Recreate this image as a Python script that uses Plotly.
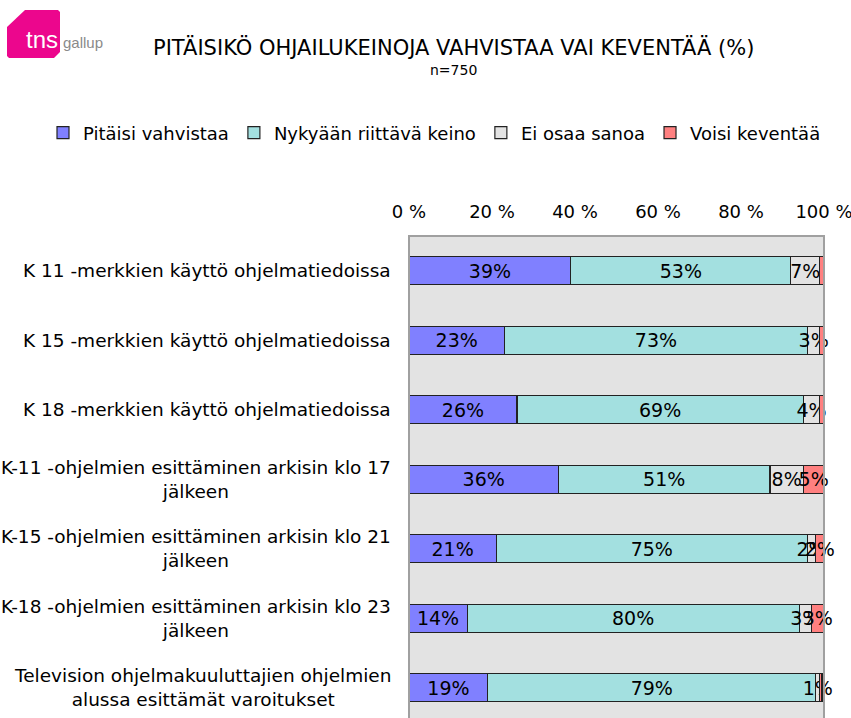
import plotly.graph_objects as go

categories = [
    "K 11 -merkkien käyttö ohjelmatiedoissa",
    "K 15 -merkkien käyttö ohjelmatiedoissa",
    "K 18 -merkkien käyttö ohjelmatiedoissa",
    "K-11 -ohjelmien esittäminen arkisin klo 17<br>jälkeen",
    "K-15 -ohjelmien esittäminen arkisin klo 21<br>jälkeen",
    "K-18 -ohjelmien esittäminen arkisin klo 23<br>jälkeen",
    "Television ohjelmakuuluttajien ohjelmien<br>alussa esittämät varoitukset",
]
series_names = ["Pitäisi vahvistaa", "Nykyään riittävä keino", "Ei osaa sanoa", "Voisi keventää"]
vahvistaa = [39, 23, 26, 36, 21, 14, 19]
riittava = [53, 73, 69, 51, 75, 80, 79]
ei_osaa = [7, 3, 4, 8, 2, 3, 1]
keventaa = [1, 1, 1, 5, 2, 3, 0.5]
keventaa_label_shown = [False, False, False, True, True, True, False]
tick_vals = [0, 20, 40, 60, 80, 100]
tick_text = ["0 %", "20 %", "40 %", "60 %", "80 %", "100 %"]

colors = ["#8080ff", "#a3e0e0", "#e3e3e3", "#ff8080"]
FONT = "DejaVu Sans, Liberation Sans, Arial, sans-serif"

W, H = 851, 718
ML, MR, MT, MB = 409, 27, 236, 0
PW, PH = W - ML - MR, H - MT - MB


def px(x):
    return (x - ML) / PW


def py(y):
    return (H - MB - y) / PH


fig = go.Figure()
all_vals = [vahvistaa, riittava, ei_osaa, keventaa]
for i, (name, vals) in enumerate(zip(series_names, all_vals)):
    if i == 3:
        txt = [f"{v:g}%" if s else "" for v, s in zip(vals, keventaa_label_shown)]
    else:
        txt = [f"{v:g}%" for v in vals]
    fig.add_trace(go.Bar(
        name=name, y=categories, x=vals, orientation="h",
        marker=dict(color=colors[i], line=dict(color="#222222", width=1.2)),
        text=txt, textposition="inside", insidetextanchor="middle",
        constraintext="none", cliponaxis=False, textangle=0,
        insidetextfont=dict(color="black", size=19, family=FONT),
        textfont=dict(color="black", size=19, family=FONT),
        hoverinfo="x+name",
    ))

annotations = []
for c in categories:
    annotations.append(dict(
        x=px(393), xref="paper", y=c, yref="y", xanchor="right", yanchor="middle",
        text=c, showarrow=False, align="center",
        font=dict(size=18.5, color="black", family=FONT),
    ))
annotations += [
    dict(x=px(453), y=py(47), xref="paper", yref="paper", text="PITÄISIKÖ OHJAILUKEINOJA VAHVISTAA VAI KEVENTÄÄ (%)",
         showarrow=False, xanchor="center", yanchor="middle", font=dict(size=21, color="black", family=FONT)),
    dict(x=px(453), y=py(70), xref="paper", yref="paper", text="n=750",
         showarrow=False, xanchor="center", yanchor="middle", font=dict(size=14, color="black", family=FONT)),
    dict(x=px(42), y=py(40), xref="paper", yref="paper", text="tns",
         showarrow=False, xanchor="center", yanchor="middle", font=dict(size=24, color="white", family="Liberation Sans, Arial")),
    dict(x=px(61), y=py(42), xref="paper", yref="paper", text="gallup",
         showarrow=False, xanchor="left", yanchor="middle", font=dict(size=15, color="#8a8a8a", family="Liberation Sans, Arial")),
]

logo_pts = [(7, 27), (25, 10), (58, 10), (60, 12), (60, 52), (54, 58), (9, 58), (7, 56)]
logo_path = "M " + " L ".join(f"{px(x)},{py(y)}" for x, y in logo_pts) + " Z"

shapes = [
    dict(type="path", path=logo_path, xref="paper", yref="paper",
         fillcolor="#ec068d", line=dict(width=0)),
    dict(type="rect", xref="paper", yref="paper", x0=0, x1=1, y0=-0.1, y1=1,
         line=dict(color="#a0a0a0", width=2), fillcolor="rgba(0,0,0,0)", layer="above"),
]

fig.update_layout(
    width=W, height=H,
    margin=dict(l=ML, r=MR, t=MT, b=MB, autoexpand=False),
    barmode="stack", bargap=0.6,
    paper_bgcolor="white", plot_bgcolor="#e3e3e3",
    font=dict(family=FONT, size=18, color="black"),
    showlegend=True,
    legend=dict(orientation="h", x=px(43), xanchor="left", y=py(133), yanchor="middle",
                font=dict(size=18, family=FONT), traceorder="normal", itemclick=False),
    xaxis=dict(side="top", range=[0, 100], tickvals=tick_vals, ticktext=tick_text,
               showgrid=False, zeroline=False, showline=False, ticks="outside", ticklen=10,
               tickcolor="rgba(0,0,0,0)", tickfont=dict(size=18, family=FONT, color="black"),
               ticklabeloverflow="allow", fixedrange=True),
    yaxis=dict(range=[6.435, -0.5], showticklabels=False, showgrid=False, zeroline=False,
               showline=False, ticks="", fixedrange=True),
    annotations=annotations,
    shapes=shapes,
)

fig.write_html(
    "out.html",
    config={"displayModeBar": False},
    post_script="document.body.style.margin='0';document.body.style.overflow='hidden';",
)
